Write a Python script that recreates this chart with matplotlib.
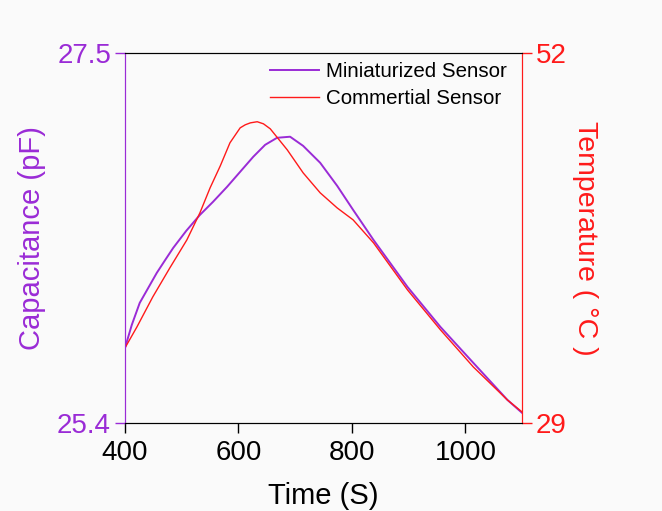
import numpy as np
import matplotlib.pyplot as plt

plt.rcParams['font.family'] = ['Liberation Sans', 'DejaVu Sans']

# capacitance of the miniaturized sensor (pF)
time_cap = [400, 412, 426, 441, 456, 471, 485, 508, 532, 555, 580, 603, 626, 647, 668,
            691, 714, 744, 774, 802, 838, 898, 956, 1014, 1074, 1100]
capacitance = [25.826, 25.957, 26.082, 26.167, 26.252, 26.326, 26.394, 26.491, 26.581, 26.655,
               26.741, 26.826, 26.911, 26.979, 27.019, 27.025, 26.973, 26.877, 26.746, 26.610,
               26.439, 26.172, 25.945, 25.741, 25.531, 25.457]

# temperature from the commercial sensor (C)
time_temp = [400, 421, 449, 479, 509, 532, 550, 568, 585, 603, 612, 621, 633, 644, 656, 686,
             714, 744, 774, 802, 838, 898, 956, 1014, 1074, 1100]
temperature = [33.67, 34.97, 36.84, 38.64, 40.38, 42.06, 43.62, 44.99, 46.42, 47.35, 47.54,
               47.66, 47.73, 47.60, 47.29, 45.98, 44.55, 43.31, 42.37, 41.63, 40.20, 37.27,
               34.79, 32.48, 30.43, 29.68]

purple = '#9a2bd6'
red = '#ff1a1a'
bg = '#fafafa'

fig = plt.figure(figsize=(6.62, 5.11), dpi=100, facecolor=bg)
ax = fig.add_axes([0.1888, 0.1722, 0.6, 0.724])
ax.set_facecolor(bg)
ax2 = ax.twinx()

l1, = ax.plot(time_cap, capacitance, color=purple, lw=1.4, label='Miniaturized Sensor')
l2, = ax2.plot(time_temp, temperature, color=red, lw=1.0, label='Commertial Sensor')

ax.set_xlim(400, 1100)
ax.set_ylim(25.4, 27.5)
ax2.set_ylim(29, 52)
ax.set_xticks([400, 600, 800, 1000])
ax.set_yticks([25.4, 27.5])
ax.set_yticklabels(['25.4', '27.5'])
ax2.set_yticks([29, 52])

ax.tick_params(axis='x', direction='out', length=7, width=1, labelsize=20, pad=5, colors='black')
ax.tick_params(axis='y', direction='out', length=7, width=1, labelsize=20, pad=3,
               colors=purple)
ax2.tick_params(axis='y', direction='out', length=7, width=1, labelsize=20, pad=3,
                colors=red)

for a in (ax, ax2):
    a.spines['top'].set_color('black')
    a.spines['bottom'].set_color('black')
    a.spines['left'].set_color(purple)
    a.spines['right'].set_color(red)

ax.set_xlabel('Time (S)', fontsize=21, labelpad=12)
ax.set_ylabel('Capacitance (pF)', fontsize=21, color=purple, labelpad=8)
ax2.set_ylabel('Temperature ( °C )', fontsize=20.5, color=red, rotation=-90, labelpad=22)

ax2.legend(handles=[l1, l2], loc='upper right', frameon=False, fontsize=14.8,
           handlelength=2.4, handletextpad=0.34, labelspacing=0.38,
           borderpad=0, borderaxespad=0, bbox_to_anchor=(0.962, 0.976))

fig.savefig('out.png', dpi=100, facecolor=bg)
